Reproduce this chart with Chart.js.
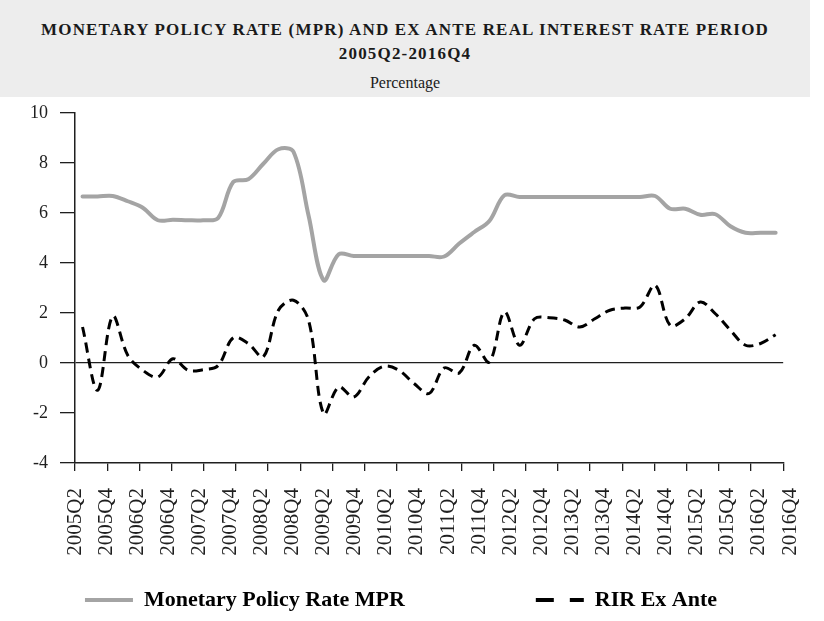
<!DOCTYPE html>
<html>
<head>
<meta charset="utf-8">
<script src="https://cdn.jsdelivr.net/npm/chart.js@4.4.1/dist/chart.umd.min.js"></script>
<style>
  html, body { margin: 0; padding: 0; background: #ffffff; }
  #wrap { position: relative; width: 824px; height: 621px; overflow: hidden; }
  #head { position: absolute; left: 0; top: 0; width: 810px; height: 97px; background: #ededed; z-index: 2;
          font-family: "Liberation Serif", "DejaVu Serif", serif; color: #1a1a1a; text-align: center; }
  .tl { position: absolute; left: 0; right: 0; font-weight: bold; font-size: 17px; white-space: nowrap; line-height: 18px; }
  #t1 { top: 21px; }
  #t2 { top: 45px; }
  #t3 { position: absolute; left: 0; right: 0; top: 73px; font-size: 16px; line-height: 20px; }
  #c { position: absolute; left: 0; top: 0; }
</style>
</head>
<body>
<div id="wrap">
  <div id="head">
    <div class="tl" id="t1"><span id="s1">MONETARY POLICY RATE (MPR) AND EX ANTE REAL INTEREST RATE PERIOD</span></div>
    <div class="tl" id="t2"><span id="s2">2005Q2-2016Q4</span></div>
    <div id="t3">Percentage</div>
  </div>
  <canvas id="c" width="824" height="621"></canvas>
</div>
<script>
// ---- data ----
const quarters = [
  "2005Q2","2005Q3","2005Q4",
  "2006Q1","2006Q2","2006Q3","2006Q4",
  "2007Q1","2007Q2","2007Q3","2007Q4",
  "2008Q1","2008Q2","2008Q3","2008Q4",
  "2009Q1","2009Q2","2009Q3","2009Q4",
  "2010Q1","2010Q2","2010Q3","2010Q4",
  "2011Q1","2011Q2","2011Q3","2011Q4",
  "2012Q1","2012Q2","2012Q3","2012Q4",
  "2013Q1","2013Q2","2013Q3","2013Q4",
  "2014Q1","2014Q2","2014Q3","2014Q4",
  "2015Q1","2015Q2","2015Q3","2015Q4",
  "2016Q1","2016Q2","2016Q3","2016Q4"
];
const mprValues = [
  6.66, 6.66, 6.68,
  6.47, 6.21, 5.71, 5.73,
  5.71, 5.71, 5.80, 7.24,
  7.35, 7.97, 8.55, 8.45,
  5.90, 3.31, 4.35, 4.28,
  4.28, 4.28, 4.28, 4.28,
  4.28, 4.26, 4.78, 5.24,
  5.68, 6.71, 6.64, 6.64,
  6.64, 6.64, 6.64, 6.64,
  6.64, 6.64, 6.64, 6.68,
  6.17, 6.17, 5.93, 5.95,
  5.47, 5.21, 5.21, 5.21
];
const rirValues = [
  1.44, -1.09, 1.87,
  0.31, -0.29, -0.56, 0.17,
  -0.29, -0.27, -0.10, 1.01,
  0.78, 0.25, 2.11, 2.51,
  1.71, -2.03, -0.96, -1.36,
  -0.56, -0.13, -0.29, -0.82,
  -1.22, -0.20, -0.40, 0.71,
  0.04, 2.04, 0.71, 1.77,
  1.81, 1.72, 1.44, 1.77,
  2.11, 2.20, 2.24, 3.11,
  1.50, 1.77, 2.44, 1.97,
  1.31, 0.71, 0.78, 1.13
];
const tickLabels = [
  "2005Q2","2005Q4","2006Q2","2006Q4","2007Q2","2007Q4","2008Q2","2008Q4",
  "2009Q2","2009Q4","2010Q2","2010Q4","2011Q2","2011Q4","2012Q2","2012Q4",
  "2013Q2","2013Q4","2014Q2","2014Q4","2015Q2","2015Q4","2016Q2","2016Q4"
];
const yMin = -4, yMax = 10, yStep = 2;
const seriesNames = ["Monetary Policy Rate MPR", "RIR Ex Ante"];

// ---- title fitting ----
(function fitTitle() {
  const s1 = document.getElementById('s1');
  const s2 = document.getElementById('s2');
  const w = s1.getBoundingClientRect().width;
  const ls = (728 - w) / s1.textContent.length;
  s1.style.letterSpacing = ls + 'px';
  s2.style.letterSpacing = ls + 'px';
})();

const FONT = '"Liberation Serif", "DejaVu Serif", serif';
const INK = '#1f1f1f';
const LEGEND_FONT = { family: FONT, size: 22, weight: 'bold' };

// spacing between the two legend entries (item 1 text + trailing space reaches this width)
function legendText(chart, text, targetWidth) {
  const ctx = chart.ctx;
  ctx.save();
  ctx.font = 'bold 22px ' + FONT;
  const w = ctx.measureText(text).width;
  const sp = ctx.measureText('\u00A0').width || 5;
  ctx.restore();
  const n = Math.max(0, Math.round((targetWidth - w) / sp));
  return text + '\u00A0'.repeat(n);
}

new Chart(document.getElementById('c'), {
  type: 'line',
  data: {
    labels: quarters,
    datasets: [
      { label: seriesNames[0], data: mprValues, borderColor: '#a4a4a4', borderWidth: 4,
        pointRadius: 0, tension: 0.35, fill: false, borderCapStyle: 'round' },
      { label: seriesNames[1], data: rirValues, borderColor: '#000000', borderWidth: 3,
        borderDash: [10, 6], pointRadius: 0, tension: 0.35, fill: false }
    ]
  },
  options: {
    responsive: false,
    animation: false,
    devicePixelRatio: 1,
    layout: { padding: { top: 113, right: 22, left: 0, bottom: 0 } },
    plugins: {
      tooltip: { enabled: false },
      title: { display: false },
      legend: {
        position: 'bottom',
        labels: {
          usePointStyle: true,
          pointStyle: 'line',
          pointStyleWidth: 48,
          padding: 10,
          color: '#111',
          font: LEGEND_FONT,
          generateLabels: (chart) => chart.data.datasets.map((ds, i) => ({
            text: i === 0 ? legendText(chart, ds.label, 383) : ds.label,
            strokeStyle: ds.borderColor,
            fillStyle: ds.borderColor,
            lineWidth: 4,
            lineDash: i === 1 ? [18, 16] : [],
            pointStyle: 'line',
            hidden: false,
            datasetIndex: i
          }))
        }
      }
    },
    scales: {
      x: { type: 'category', offset: true, display: false },
      xTicks: {
        type: 'linear', position: 'bottom', axis: 'x', weight: 0,
        min: 0, max: 22,
        ticks: { display: false, stepSize: 1 },
        grid: { drawOnChartArea: false, tickLength: 8, tickColor: INK, lineWidth: 1.3 },
        border: { display: true, color: INK, width: 1.5 },
        afterFit: (s) => { s.height = 8; }
      },
      xLabels: {
        type: 'linear', position: 'bottom', axis: 'x', weight: 1,
        min: 0, max: 22.78,
        afterBuildTicks: (s) => { s.ticks = tickLabels.map((_, k) => ({ value: k })); },
        ticks: {
          autoSkip: false, minRotation: 90, maxRotation: 90, padding: 9,
          color: INK, font: { family: FONT, size: 21 },
          callback: (v, i) => tickLabels[i]
        },
        grid: { display: false },
        border: { display: false },
        afterFit: (s) => { s.height = 108; }
      },
      y: {
        min: yMin, max: yMax,
        ticks: { stepSize: yStep, color: INK, padding: 12, font: { family: FONT, size: 18 } },
        grid: {
          drawOnChartArea: true,
          color: (c) => (c.tick && c.tick.value === 0) ? INK : 'rgba(0,0,0,0)',
          tickColor: INK, tickLength: 15, lineWidth: 1.3
        },
        border: { display: true, color: INK, width: 1.5 },
        afterFit: (s) => { s.width = 75; }
      }
    }
  }
});
</script>
</body>
</html>
